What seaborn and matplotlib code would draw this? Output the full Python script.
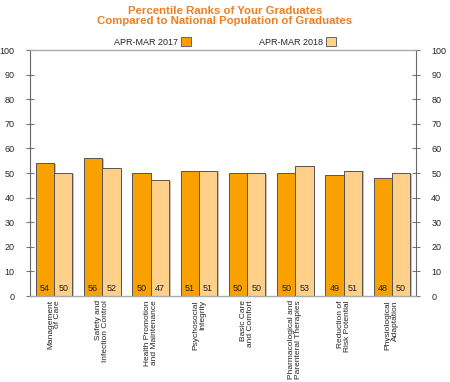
import matplotlib
matplotlib.use("Agg")
import matplotlib.pyplot as plt
import seaborn as sns
import pandas as pd
from matplotlib.patches import Patch
import matplotlib.patheffects as pe

categories = ["Management\nof Care", "Safety and\nInfection Control", "Health Promotion\nand Maintenance",
              "Psychosocial\nIntegrity", "Basic Care\nand Comfort", "Pharmacological and\nParenteral Therapies",
              "Reduction of\nRisk Potential", "Physiological\nAdaptation"]
series_names = ["APR-MAR 2017", "APR-MAR 2018"]
values_2017 = [54, 56, 50, 51, 50, 50, 49, 48]
values_2018 = [50, 52, 47, 51, 50, 53, 51, 50]
colors = ["#F9A100", "#FFD08A"]

df = pd.DataFrame({
    "category": categories * 2,
    "series": [series_names[0]] * len(categories) + [series_names[1]] * len(categories),
    "value": values_2017 + values_2018,
})

sns.set_style("white")
plt.rcParams["font.family"] = ["Liberation Sans", "DejaVu Sans"]

fig = plt.figure(figsize=(4.5, 3.82), dpi=100)
ax = fig.add_axes([30/450, 1-296/382, (416-30)/450, (296-50)/382])

sns.barplot(data=df, x="category", y="value", hue="series", palette=colors,
            edgecolor="#555555", linewidth=0.7, width=0.76, ax=ax, legend=False,
            saturation=1)

for p in ax.patches:
    p.set_path_effects([pe.SimplePatchShadow(offset=(1.2, -0.6), shadow_rgbFace="#999999", alpha=0.6), pe.Normal()])

for cont in ax.containers:
    ax.bar_label(cont, labels=[f"{int(v)}" for v in cont.datavalues], label_type="edge",
                 padding=0, fontsize=6.5, color="#222222")
# move labels to the bottom of bars
for t in ax.texts:
    x, y = t.xy
    t.xy = (x, 0)
    t.set_position((0, 2))
    t.set_verticalalignment("bottom")

ax.set_ylim(0, 100)
ax.set_yticks(range(0, 101, 10))
ax.set_xlabel("")
ax.set_ylabel("")
ax.tick_params(axis="y", which="both", direction="inout", length=6, width=0.8, color="#777777",
               labelsize=6.5, left=True, right=True, labelleft=True, labelright=True, pad=8)
ax.tick_params(axis="x", length=0, labelsize=6.0, pad=3)
plt.setp(ax.get_xticklabels(), rotation=90, ha="center", va="top", multialignment="right",
         linespacing=1.0)

for s in ["left", "right"]:
    ax.spines[s].set_color("#666666")
    ax.spines[s].set_linewidth(0.8)
for s in ["top", "bottom"]:
    ax.spines[s].set_color("#AAAAAA")
    ax.spines[s].set_linewidth(1.0)

fig.text(0.5, 1-16/382, "Percentile Ranks of Your Graduates\nCompared to National Population of Graduates",
         ha="center", va="center", fontsize=8.2, fontweight="bold", color="#EE7F22", linespacing=1.0)

handles = [Patch(facecolor=c, edgecolor="#666666", linewidth=0.7) for c in colors]
fig.legend(handles, series_names, loc="center", bbox_to_anchor=(0.5, 1-42/382), ncol=2,
           markerfirst=False, frameon=False, fontsize=6.5, handlelength=1.1, handleheight=1.1,
           handletextpad=0.4, columnspacing=7.5)

fig.savefig("out.png", dpi=100)
